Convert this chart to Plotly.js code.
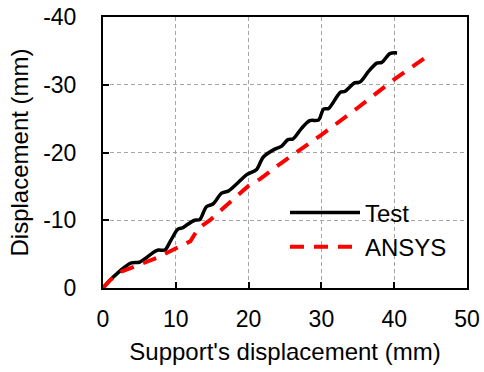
<!DOCTYPE html>
<html>
<head>
<meta charset="utf-8">
<script src="https://cdn.plot.ly/plotly-3.0.1.min.js"></script>
<style>html,body{margin:0;padding:0;background:#fff;}#chart{width:484px;height:372px;}</style>
</head>
<body>
<div id="chart"></div>
<script>
const testX = [0,1,2,3,3.9,5,6,7,7.6,8.5,9.3,10.3,11,11.5,12.6,13.3,14.2,15.1,16.3,17.2,18.5,19.7,21.1,22.0,23.6,24.5,25.4,26.1,27.3,28.4,29.6,30.3,31.0,32.6,33.2,34.6,35.3,36.5,37.6,38.3,39.4,40.4];
const testY = [0,-1.2,-2.2,-3.1,-3.7,-3.8,-4.5,-5.3,-5.6,-5.6,-7.0,-8.7,-8.9,-9.3,-10,-10.1,-12.0,-12.4,-14.0,-14.3,-15.5,-16.7,-17.5,-19.3,-20.5,-20.9,-21.9,-22.0,-23.6,-24.7,-24.8,-26.4,-26.5,-28.9,-29.0,-30.3,-30.4,-32.0,-33.2,-33.3,-34.6,-34.7];
const ansysX = [0,1,2.5,5,7.3,10.5,12,13.1,14.7,16,19.9,21.6,24.3,30,35,40,44.8];
const ansysY = [0,-1.2,-2.4,-3.4,-4.4,-6.1,-6.9,-8.8,-10.0,-11.3,-15.0,-16.1,-18.3,-22.6,-26.6,-30.8,-34.4];
const xTicks = [0,10,20,30,40,50];
const yTicks = [0,-10,-20,-30,-40];
const yTickText = ['0','-10','-20','-30','-40'];
const xTitle = "Support's displacement (mm)";
const yTitle = "Displacement (mm)";

const fam = 'Liberation Sans, Arial, sans-serif';
const font = {family: fam, size: 23, color: '#000'};
const titleFont = {family: fam, size: 24, color: '#000'};
const legendFont = {family: fam, size: 24, color: '#000'};

const traces = [
  {x: testX, y: testY, name: 'Test', mode: 'lines',
   line: {color: '#000', width: 3.5, shape: 'spline', smoothing: 0.8}},
  {x: ansysX, y: ansysY, name: 'ANSYS', mode: 'lines',
   line: {color: '#ff0000', width: 4, dash: '14px,10px'}}
];

const layout = {
  width: 484, height: 372,
  margin: {l: 103, r: 17, t: 17, b: 84},
  paper_bgcolor: '#fff', plot_bgcolor: '#fff',
  font: font,
  showlegend: true,
  legend: {x: 0.50, y: 0.36, xanchor: 'left', yanchor: 'top', bgcolor: 'rgba(0,0,0,0)',
           font: legendFont, itemwidth: 70},
  xaxis: {
    range: [0, 50], tickvals: xTicks, ticks: 'inside', ticklen: 6, tickwidth: 2, tickcolor: '#000',
    showline: true, linecolor: '#000', linewidth: 2, mirror: true,
    showgrid: true, gridcolor: '#a6a6a6', gridwidth: 1, griddash: '4px,3px',
    zeroline: false, tickfont: font, ticklabelstandoff: 9,
    title: {text: xTitle, font: titleFont, standoff: 13}
  },
  yaxis: {
    range: [0, -40], tickvals: yTicks, ticktext: yTickText, ticks: 'inside', ticklen: 6, tickwidth: 2, tickcolor: '#000',
    showline: true, linecolor: '#000', linewidth: 2, mirror: true,
    showgrid: true, gridcolor: '#a6a6a6', gridwidth: 1, griddash: '4px,3px',
    zeroline: false, tickfont: font, ticklabelstandoff: 20,
    title: {text: yTitle, font: titleFont, standoff: 8}
  }
};

Plotly.newPlot('chart', traces, layout, {displayModeBar: false, staticPlot: true});
</script>
</body>
</html>
